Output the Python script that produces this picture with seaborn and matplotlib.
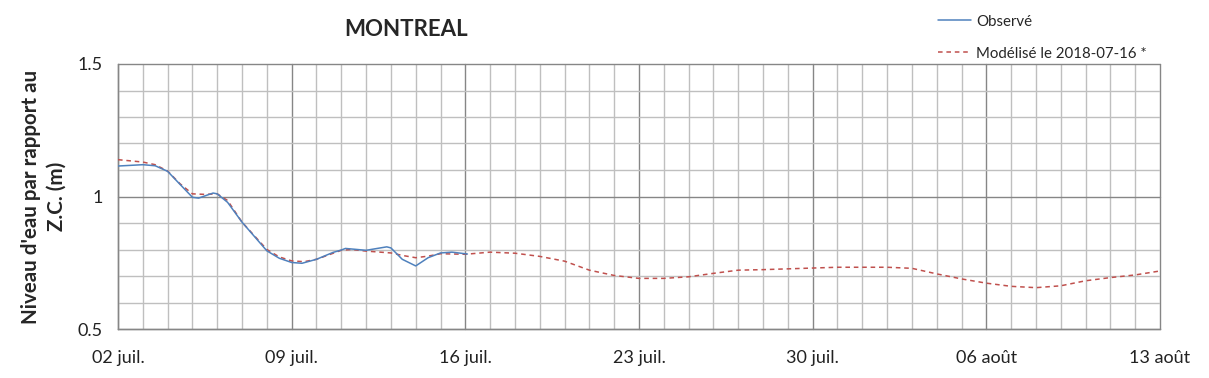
import pandas as pd
import numpy as np
import matplotlib.pyplot as plt
import matplotlib.dates as mdates
from matplotlib.ticker import MultipleLocator
import seaborn as sns

# observed water level (m above chart datum)
obs_time = ["2018-07-02 00:00", "2018-07-03 00:00", "2018-07-03 12:00", "2018-07-04 00:00",
            "2018-07-04 10:00", "2018-07-05 00:00", "2018-07-05 06:00", "2018-07-05 20:00",
            "2018-07-06 00:00", "2018-07-06 10:00", "2018-07-07 00:00", "2018-07-08 00:00",
            "2018-07-08 12:00", "2018-07-09 00:00", "2018-07-09 10:00", "2018-07-10 00:00",
            "2018-07-10 16:00", "2018-07-11 00:00", "2018-07-11 04:00", "2018-07-12 00:00",
            "2018-07-12 20:00", "2018-07-13 00:00", "2018-07-13 11:00", "2018-07-14 00:00",
            "2018-07-14 12:00", "2018-07-15 00:00", "2018-07-15 11:00", "2018-07-16 00:00",
            "2018-07-16 02:00"]
obs_level = [1.115, 1.120, 1.116, 1.095, 1.054, 0.997, 0.994, 1.013,
             1.010, 0.978, 0.903, 0.795, 0.767, 0.751, 0.748, 0.763,
             0.789, 0.798, 0.804, 0.797, 0.810, 0.806, 0.763, 0.738,
             0.769, 0.787, 0.790, 0.784, 0.783]

# modelled water level, forecast issued 2018-07-16
mod_time = ["2018-07-02 00:00", "2018-07-03 00:00", "2018-07-03 12:00", "2018-07-04 00:00",
            "2018-07-04 12:00", "2018-07-05 00:00", "2018-07-05 12:00", "2018-07-06 00:00",
            "2018-07-06 10:00", "2018-07-07 00:00", "2018-07-08 00:00", "2018-07-08 12:00",
            "2018-07-09 00:00", "2018-07-09 12:00", "2018-07-10 00:00", "2018-07-11 00:00",
            "2018-07-11 10:00", "2018-07-12 00:00", "2018-07-13 00:00", "2018-07-13 12:00",
            "2018-07-14 00:00", "2018-07-14 12:00", "2018-07-15 00:00", "2018-07-16 00:00",
            "2018-07-17 00:00", "2018-07-18 00:00", "2018-07-19 00:00", "2018-07-20 00:00",
            "2018-07-21 00:00", "2018-07-22 00:00", "2018-07-23 00:00", "2018-07-24 00:00",
            "2018-07-25 00:00", "2018-07-26 00:00", "2018-07-27 00:00", "2018-07-28 00:00",
            "2018-07-29 00:00", "2018-07-30 00:00", "2018-07-31 00:00", "2018-08-01 00:00",
            "2018-08-02 00:00", "2018-08-03 00:00", "2018-08-04 00:00", "2018-08-05 00:00",
            "2018-08-06 00:00", "2018-08-07 00:00", "2018-08-08 00:00", "2018-08-09 00:00",
            "2018-08-10 00:00", "2018-08-11 00:00", "2018-08-12 00:00", "2018-08-13 00:00"]
mod_level = [1.139, 1.130, 1.120, 1.096, 1.048, 1.010, 1.008, 1.010,
             0.985, 0.903, 0.800, 0.772, 0.757, 0.754, 0.763, 0.797,
             0.800, 0.794, 0.787, 0.777, 0.769, 0.775, 0.784, 0.782,
             0.790, 0.786, 0.774, 0.756, 0.722, 0.702, 0.691, 0.691,
             0.697, 0.710, 0.722, 0.724, 0.727, 0.730, 0.733, 0.733,
             0.733, 0.729, 0.708, 0.689, 0.673, 0.661, 0.656, 0.663,
             0.682, 0.694, 0.704, 0.719]

x_ticks = ["2018-07-02", "2018-07-09", "2018-07-16", "2018-07-23",
           "2018-07-30", "2018-08-06", "2018-08-13"]
x_labels = ["02 juil.", "09 juil.", "16 juil.", "23 juil.", "30 juil.", "06 août", "13 août"]
y_ticks = [0.5, 1.0, 1.5]
y_labels = ["0.5", "1", "1.5"]

obs = pd.DataFrame({"time": pd.to_datetime(obs_time), "level": obs_level})
mod = pd.DataFrame({"time": pd.to_datetime(mod_time), "level": mod_level})

sns.set_style("white")
plt.rcParams['font.family'] = ['Lato', 'DejaVu Sans']

fig = plt.figure(figsize=(12.09, 3.78), dpi=100)
ax = fig.add_axes([118/1209, 1 - 329/378, (1160-118)/1209, (329-64)/378])

minor_c = "#BFBFBF"
major_c = "#868686"

sns.lineplot(data=obs, x="time", y="level", ax=ax, color="#4F81BD", lw=1.1,
             label="Observé", zorder=4)
sns.lineplot(data=mod, x="time", y="level", ax=ax, color="#C0504D", lw=1.1,
             label="Modélisé le 2018-07-16 *", zorder=3)
ax.lines[1].set_dashes((3, 2.5))

ax.set_xlim(pd.Timestamp("2018-07-02"), pd.Timestamp("2018-08-13"))
ax.set_ylim(0.5, 1.5)

# grid
ax.xaxis.set_minor_locator(mdates.DayLocator())
ax.set_xticks(pd.to_datetime(x_ticks))
ax.set_xticklabels(x_labels)
ax.set_yticks(y_ticks)
ax.set_yticklabels(y_labels)
ax.yaxis.set_minor_locator(MultipleLocator(0.1))
ax.grid(which="minor", color=minor_c, lw=1.0, zorder=0)
ax.grid(which="major", color=major_c, lw=1.0, zorder=1)
for gl in ax.get_xgridlines() + ax.get_ygridlines():
    gl.set_clip_on(False)
ax.set_axisbelow(True)

ax.tick_params(which="major", length=6, width=1, color=major_c, labelsize=13,
               labelcolor="#222222", pad=5)
ax.tick_params(which="minor", length=0)
ax.tick_params(axis="x", pad=9)

for s in ["top", "right"]:
    ax.spines[s].set_visible(False)
for s in ["left", "bottom"]:
    ax.spines[s].set_color(major_c)
    ax.spines[s].set_linewidth(1.0)

ax.set_xlabel("")
ax.set_ylabel("Niveau d'eau par rapport au\nZ.C. (m)", fontsize=14.8, fontweight="bold",
              labelpad=8, linespacing=1.35)

fig.text(406/1209, 1 - 29/378, "MONTREAL", ha="center", va="center",
         fontsize=16, fontweight="bold")

ax.legend_.remove()
h, l = ax.get_legend_handles_labels()
fig.legend(h, l, loc="upper left", bbox_to_anchor=(924/1209, 1 - 1/378), frameon=False,
           fontsize=10.8, handlelength=2.2, handletextpad=0.4, labelspacing=1.2)

plt.savefig("out.png", dpi=100)
